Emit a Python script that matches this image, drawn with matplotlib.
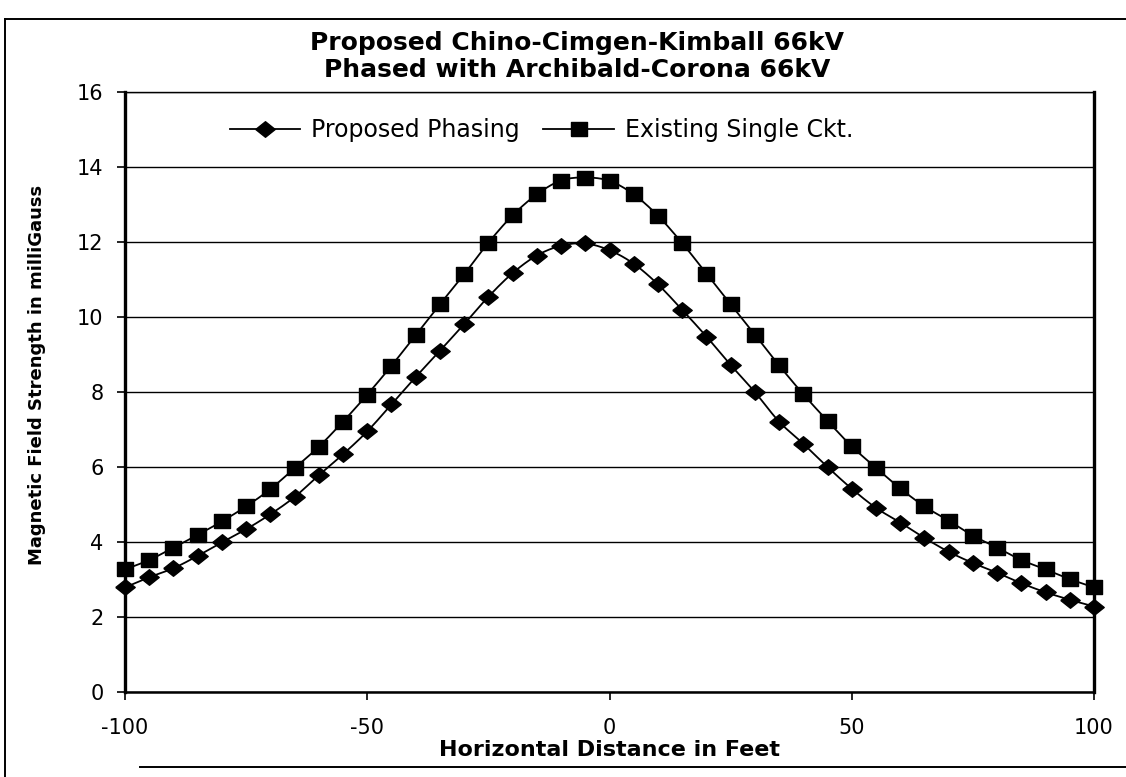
import numpy as np
import matplotlib
matplotlib.use("Agg")
import matplotlib.pyplot as plt
from matplotlib.lines import Line2D

# Horizontal offset from the line centre, in feet
distance_ft = np.arange(-100, 101, 5)

# Magnetic field strength (mG) along the profile
proposed_phasing = [
    2.79, 3.06, 3.30, 3.63, 3.99, 4.34, 4.74, 5.20, 5.78, 6.34,
    6.95, 7.67, 8.40, 9.10, 9.81, 10.54, 11.17, 11.64, 11.90, 11.96,
    11.78, 11.42, 10.87, 10.19, 9.48, 8.72, 8.00, 7.21, 6.62, 6.00,
    5.42, 4.91, 4.52, 4.11, 3.74, 3.44, 3.18, 2.90, 2.66, 2.46, 2.28,
]
existing_single = [
    3.27, 3.52, 3.85, 4.19, 4.55, 4.95, 5.41, 5.97, 6.54, 7.21,
    7.93, 8.70, 9.52, 10.34, 11.14, 11.98, 12.71, 13.27, 13.64, 13.72,
    13.63, 13.27, 12.70, 11.97, 11.16, 10.34, 9.53, 8.71, 7.94, 7.23,
    6.55, 5.98, 5.43, 4.95, 4.57, 4.17, 3.85, 3.52, 3.27, 3.01, 2.79,
]

series_names = ["Proposed Phasing", "Existing Single Ckt."]
title_lines = ["Proposed Chino-Cimgen-Kimball 66kV",
               "Phased with Archibald-Corona 66kV"]
x_label = "Horizontal Distance in Feet"
y_label = "Magnetic Field Strength in milliGauss"
x_ticks = [-100, -50, 0, 50, 100]
y_ticks = [0, 2, 4, 6, 8, 10, 12, 14, 16]

SUB = 10  # interpolated steps per segment of the smoothed curve


def smooth(x, y, n=SUB):
    """Catmull-Rom curve through every point; data points land on index k*n."""
    p = np.column_stack([np.asarray(x, float), np.asarray(y, float)])
    p = np.vstack([2 * p[0] - p[1], p, 2 * p[-1] - p[-2]])
    t = np.linspace(0, 1, n, endpoint=False)[:, None]
    out = []
    for i in range(1, len(p) - 2):
        p0, p1, p2, p3 = p[i - 1], p[i], p[i + 1], p[i + 2]
        seg = 0.5 * (2 * p1 + (-p0 + p2) * t
                     + (2 * p0 - 5 * p1 + 4 * p2 - p3) * t ** 2
                     + (-p0 + 3 * p1 - 3 * p2 + p3) * t ** 3)
        out.append(seg)
    out.append(p[-2][None, :])
    out = np.vstack(out)
    return out[:, 0], out[:, 1]


W, H = 1126, 777
fig = plt.figure(figsize=(W / 100, H / 100), dpi=100)
fig.patch.set_facecolor("white")

ax_l, ax_r, ax_t, ax_b = 125, 1094, 92, 692
ax = fig.add_axes([ax_l / W, 1 - ax_b / H, (ax_r - ax_l) / W, (ax_b - ax_t) / H])

wide_diamond = [(-1, 0), (0, 0.8), (1, 0), (0, -0.8), (-1, 0)]
wide_square = [(-1, -0.8), (1, -0.8), (1, 0.8), (-1, 0.8), (-1, -0.8)]

for values, name, marker, ms in [
    (proposed_phasing, series_names[0], wide_diamond, 14),
    (existing_single, series_names[1], wide_square, 12),
]:
    xs, ys = smooth(distance_ft, values)
    ax.plot(xs, ys, color="black", linewidth=1.3, marker=marker,
            markersize=ms, markevery=SUB, markerfacecolor="black",
            markeredgecolor="black", label=name, clip_on=False, zorder=3)

ax.set_xlim(-100, 100)
ax.set_ylim(0, 16)
ax.set_xticks(x_ticks)
ax.set_yticks(y_ticks)
ax.yaxis.grid(True, color="black", linewidth=1.0)
ax.xaxis.grid(False)
ax.set_axisbelow(True)

tick_font = dict(family="DejaVu Sans", size=15)
ax.set_xticklabels([str(v) for v in x_ticks], **tick_font)
ax.set_yticklabels([str(v) for v in y_ticks], **tick_font)
ax.tick_params(axis="x", direction="out", length=5.5, width=1.2, pad=13, colors="black")
ax.tick_params(axis="y", direction="out", length=5.5, width=1.2, pad=10, colors="black")

for side, lw in [("left", 2.4), ("right", 2.4), ("bottom", 1.8), ("top", 1.0)]:
    ax.spines[side].set_linewidth(lw)
    ax.spines[side].set_color("black")

ax.set_xlabel(x_label, family="DejaVu Sans", weight="bold", size=16, labelpad=2)
ax.set_ylabel(y_label, family="DejaVu Sans", weight="bold", size=13)
ax.yaxis.set_label_coords((46 - ax_l) / (ax_r - ax_l), (ax_b - 375) / (ax_b - ax_t))

leg = ax.legend(loc="center left", bbox_to_anchor=(0.108, 0.937), ncol=2,
                frameon=False, prop=dict(family="DejaVu Sans", size=17),
                handlelength=3.0, handletextpad=0.45, columnspacing=1.0,
                borderaxespad=0, borderpad=0)

# Two-line chart title
fig.text(577 / W, 1 - 43 / H, title_lines[0], ha="center", va="center",
         family="DejaVu Sans", weight="bold", size=18)
fig.text(577 / W, 1 - 70 / H, title_lines[1], ha="center", va="center",
         family="DejaVu Sans", weight="bold", size=18)

# Chart-area frame
frame_kw = dict(color="black", linewidth=1.4, transform=fig.transFigure)
fig.add_artist(Line2D([5 / W, 5 / W], [0, 1 - 19 / H], **frame_kw))
fig.add_artist(Line2D([5 / W, 1], [1 - 19 / H, 1 - 19 / H], **frame_kw))
fig.add_artist(Line2D([140 / W, 1], [1 - 767 / H, 1 - 767 / H], **frame_kw))

fig.savefig("out.png", dpi=100, facecolor="white")
